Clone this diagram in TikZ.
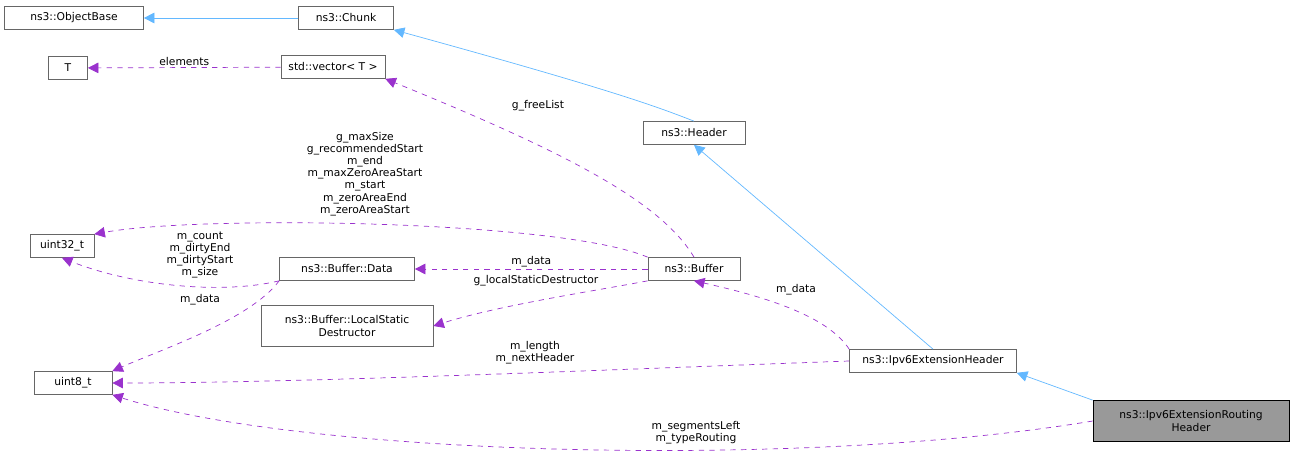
\documentclass[tikz,border=0pt]{standalone}
\usepackage{fontspec}
\setmainfont{DejaVu Sans}
\usepackage{tikz}
\usetikzlibrary{arrows.meta}
\definecolor{inhblue}{RGB}{99,184,255}
\definecolor{usepurple}{RGB}{154,50,205}
\definecolor{boxgrey}{RGB}{102,102,102}
\begin{document}
\begin{tikzpicture}[x=0.02cm,y=-0.02cm,font=\fontsize{6.1}{6.9}\selectfont]

%
% Styles
%
\tikzstyle{cls}     = [draw=boxgrey,fill=white,inner sep=0pt,minimum height=0.46cm,align=center]
\tikzstyle{hlcls}   = [cls,draw=black,fill=black!40]
\tikzstyle{inherit} = [draw=inhblue,-{Triangle[length=6pt,width=6pt,fill=inhblue]}]
\tikzstyle{uses}    = [draw=usepurple,dashed,-{Triangle[length=6pt,width=6pt,fill=usepurple]}]
\tikzstyle{lbl}     = [align=center,inner sep=1pt]

\useasboundingbox (0,0) rectangle (1293,455);

\node[cls,minimum width=2.78cm] (objbase) at (74,18)   {ns3::ObjectBase};
\node[cls,minimum width=1.9cm]  (chunk)   at (346,18)  {ns3::Chunk};
\node[cls,minimum width=0.78cm] (t)       at (68,68)   {T};
\node[cls,minimum width=2.08cm] (vec)     at (333,67)  {std::vector< T >};
\node[cls,minimum width=2.04cm] (header)  at (694,133) {ns3::Header};
\node[cls,minimum width=1.28cm] (u32)     at (62,246)  {uint32\_t};
\node[cls,minimum width=2.7cm]  (data)    at (347,269) {ns3::Buffer::Data};
\node[cls,minimum width=1.84cm] (buffer)  at (694,269) {ns3::Buffer};
\node[cls,minimum width=3.44cm,minimum height=0.82cm] (lsd) at (347,326) {ns3::Buffer::LocalStatic\\Destructor};
\node[cls,minimum width=1.56cm] (u8)      at (73,383)  {uint8\_t};
\node[cls,minimum width=3.34cm] (exthdr)  at (933,361) {ns3::Ipv6ExtensionHeader};
\node[hlcls,minimum width=3.92cm,minimum height=0.82cm] (routing) at (1191,421) {ns3::Ipv6ExtensionRouting\\Header};

\draw[inherit] (chunk) -- (objbase);
\draw[inherit] (header.north) .. controls (660,108) and (620,92) .. (chunk.south east);
\draw[inherit] (exthdr.north) -- (header.south);
\draw[inherit] (routing.north west) -- (exthdr.south east);

\draw[uses] (vec) -- node[lbl,above] {elements} (t);
\draw[uses] (buffer.north) .. controls (660,200) and (560,150) .. (vec.south east);
\node[lbl] (freelist) at (538,106) {g\_freeList};
\draw[uses] (buffer.north west) .. controls (560,220) and (200,215) .. (u32.north east);
\node[lbl] (sizes) at (365,174) {g\_maxSize\\g\_recommendedStart\\m\_end\\m\_maxZeroAreaStart\\m\_start\\m\_zeroAreaEnd\\m\_zeroAreaStart};
\draw[uses] (data.south west) .. controls (220,295) and (130,285) .. (u32.south);
\node[lbl] (counts) at (200,255) {m\_count\\m\_dirtyEnd\\m\_dirtyStart\\m\_size};
\draw[uses] (buffer) -- node[lbl,above] {m\_data} (data);
\draw[uses] (buffer.south west) .. controls (600,290) and (500,305) .. (lsd.east);
\node[lbl] (lsdlbl) at (536,281) {g\_localStaticDestructor};
\draw[uses] (data.south west) .. controls (250,320) and (160,350) .. (u8.north east);
\node[lbl] (datalbl) at (200,300) {m\_data};
\draw[uses] (exthdr.north west) .. controls (830,320) and (780,300) .. (buffer.south);
\node[lbl] (buflbl) at (796,290) {m\_data};
\draw[uses] (exthdr.west) .. controls (600,370) and (300,383) .. (u8.east);
\node[lbl] (lenlbl) at (535,353) {m\_length\\m\_nextHeader};
\draw[uses] (routing.west) .. controls (800,470) and (300,455) .. (u8.south east);
\node[lbl] (seglbl) at (696,433) {m\_segmentsLeft\\m\_typeRouting};

\end{tikzpicture}
\end{document}
